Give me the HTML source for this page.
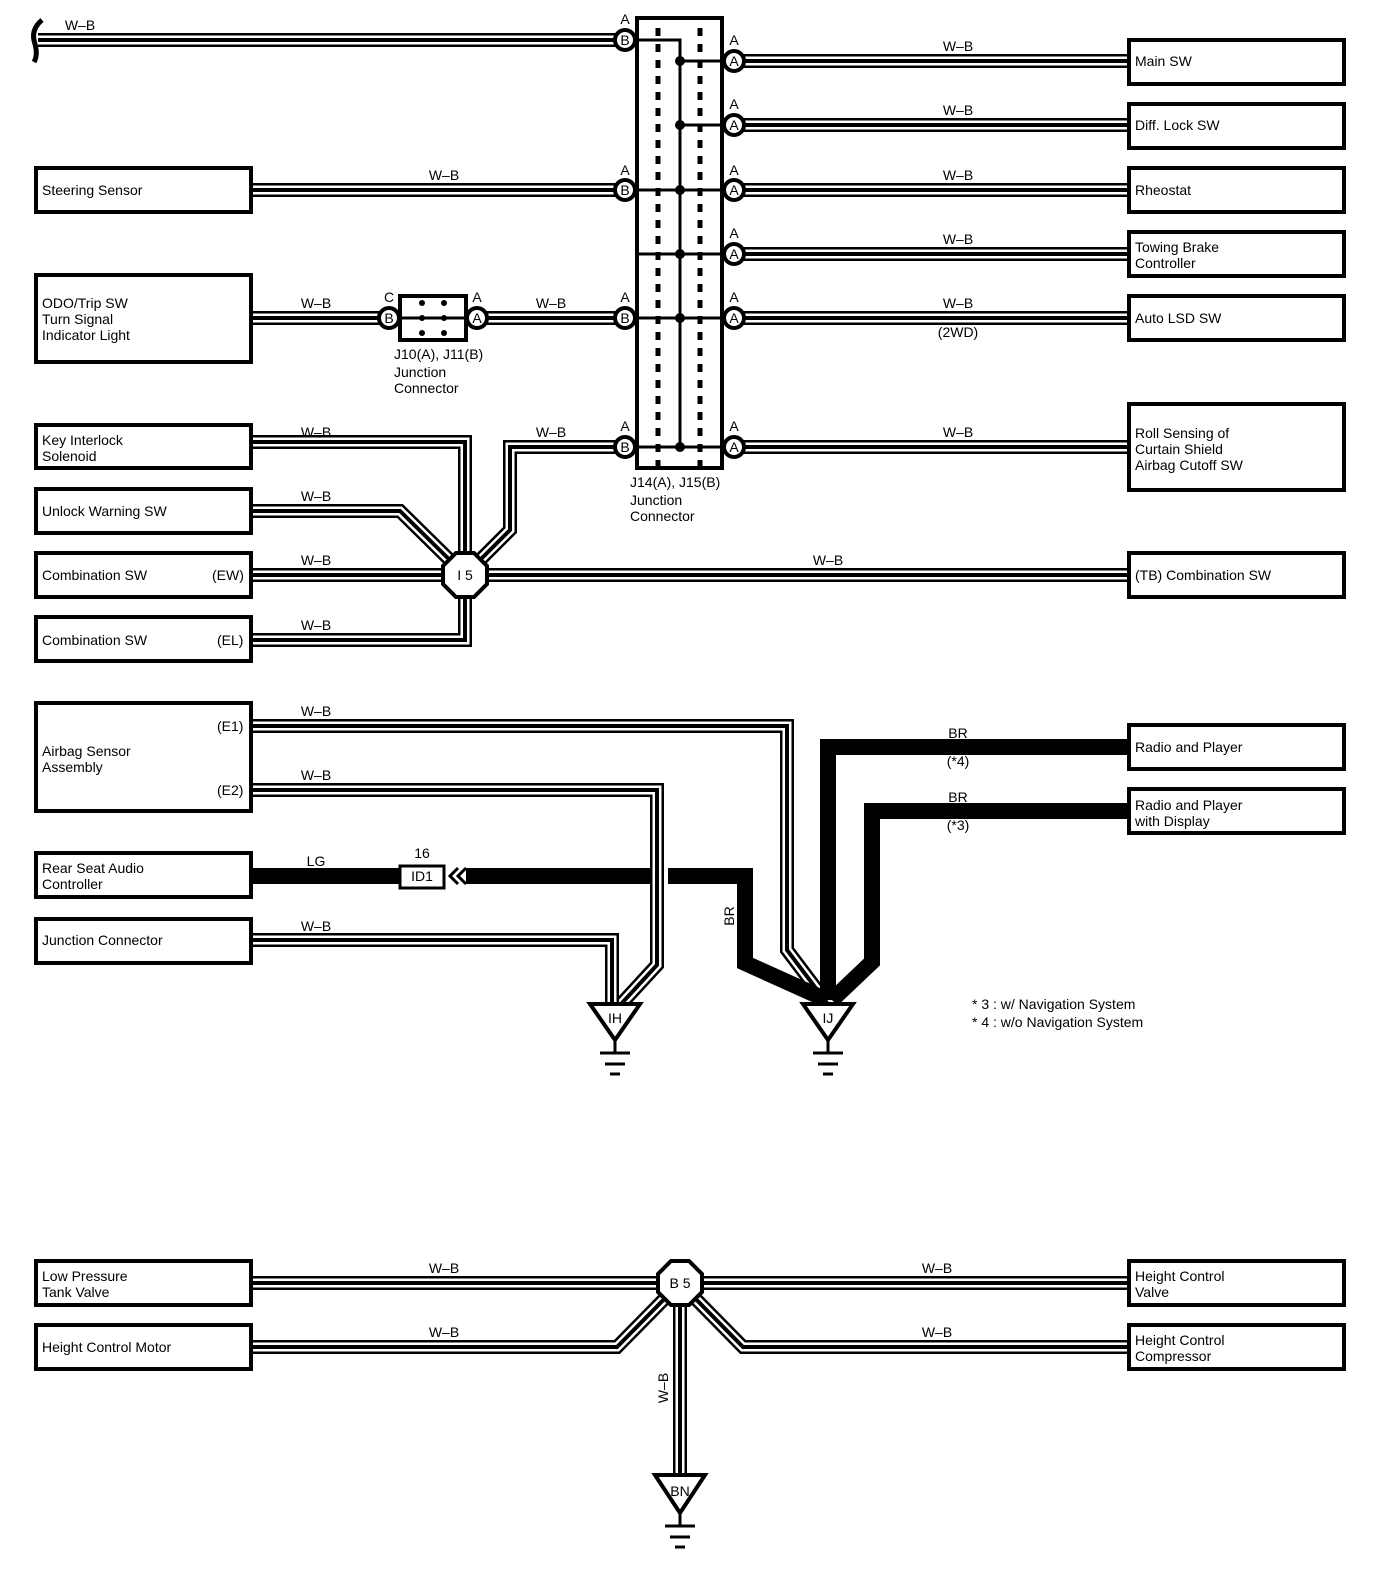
<!DOCTYPE html>
<html><head><meta charset="utf-8"><style>
html,body{margin:0;padding:0;background:#fff}
svg{display:block}
text{font-family:"Liberation Sans",sans-serif;font-size:14px;fill:#000}
</style></head><body>
<svg width="1392" height="1578" viewBox="0 0 1392 1578" xmlns="http://www.w3.org/2000/svg">
<defs>
<g id="wb" fill="none" stroke-linejoin="miter">
<path d="M38 40 H615"/>
<path d="M735 61 H1128"/>
<path d="M735 125 H1128"/>
<path d="M251 190 H615"/><path d="M735 190 H1128"/>
<path d="M735 254 H1128"/>
<path d="M251 318 H379"/><path d="M487 318 H615"/><path d="M735 318 H1128"/>
<path d="M735 447 H1128"/>
<path d="M251 442 H465 V575"/>
<path d="M251 511 H400 L465 575"/>
<path d="M251 575 H1128"/>
<path d="M251 640 H465 V575"/>
<path d="M465 575 L510 530 V447 H615"/>
<path d="M251 726 H787 V950 L827 1003"/>
<path d="M251 790 H657 V965 L622 1003"/>
<path d="M251 940 H612 V1003"/>
<path d="M251 1283 H1128"/>
<path d="M251 1347 H617 L680 1283 L743 1347 H1128"/>
<path d="M680 1283 V1473"/>
</g>
</defs>
<use href="#wb" stroke="#000" stroke-width="14"/>
<use href="#wb" stroke="#fff" stroke-width="9"/>
<use href="#wb" stroke="#000" stroke-width="4"/>
<path d="M42 20 Q30 30 35 44 Q38 55 34 62" fill="none" stroke="#000" stroke-width="5"/>

<!-- thick wires -->
<g fill="none" stroke="#000" stroke-width="16">
<path d="M251 876 H399"/>
<path d="M466 876 H650"/>
<path d="M668 876 H745 V963 L827 1000"/>
<path d="M1128 747 H828 V1000"/>
<path d="M1128 811 H872 V962 L832 1000"/>
</g>

<!-- boxes -->
<g fill="#fff" stroke="#000" stroke-width="4">
<rect x="37" y="40" width="0" height="0"/>
<rect x="1129" y="40" width="215" height="44"/>
<rect x="1129" y="104" width="215" height="44"/>
<rect x="1129" y="168" width="215" height="44"/>
<rect x="1129" y="232" width="215" height="44"/>
<rect x="1129" y="296" width="215" height="44"/>
<rect x="1129" y="404" width="215" height="86"/>
<rect x="1129" y="553" width="215" height="44"/>
<rect x="1129" y="725" width="215" height="44"/>
<rect x="1129" y="789" width="215" height="44"/>
<rect x="1129" y="1261" width="215" height="44"/>
<rect x="1129" y="1325" width="215" height="44"/>
<rect x="36" y="168" width="215" height="44"/>
<rect x="36" y="275" width="215" height="87"/>
<rect x="36" y="425" width="215" height="43"/>
<rect x="36" y="489" width="215" height="44"/>
<rect x="36" y="553" width="215" height="44"/>
<rect x="36" y="617" width="215" height="44"/>
<rect x="36" y="703" width="215" height="108"/>
<rect x="36" y="853" width="215" height="44"/>
<rect x="36" y="919" width="215" height="44"/>
<rect x="36" y="1261" width="215" height="44"/>
<rect x="36" y="1325" width="215" height="44"/>
<rect x="637" y="18" width="85" height="450"/>
<rect x="400" y="296" width="66" height="44"/>
<rect x="400" y="866" width="44" height="22" stroke-width="3"/>
</g>

<!-- J14/J15 internals -->
<g stroke="#000" stroke-width="5" stroke-dasharray="8 8" fill="none">
<path d="M658 28 V468"/><path d="M700 28 V468"/>
</g>
<g stroke="#000" stroke-width="3" fill="none">
<path d="M635 40 H680 V447"/>
<path d="M680 61 H724"/><path d="M680 125 H724"/><path d="M635 190 H724"/><path d="M635 254 H724"/>
<path d="M635 318 H724" /><path d="M635 447 H724"/>
<path d="M400 318 H466"/>
</g>
<g fill="#000">
<circle cx="680" cy="61" r="5"/><circle cx="680" cy="125" r="5"/><circle cx="680" cy="190" r="5"/>
<circle cx="680" cy="254" r="5"/><circle cx="680" cy="318" r="5"/><circle cx="680" cy="447" r="5"/>
<circle cx="422" cy="303" r="3"/><circle cx="422" cy="318" r="3"/><circle cx="422" cy="333" r="3"/>
<circle cx="444" cy="303" r="3"/><circle cx="444" cy="318" r="3"/><circle cx="444" cy="333" r="3"/>
</g>

<!-- connector circles -->
<g fill="#fff" stroke="#000" stroke-width="4">
<circle cx="625" cy="40" r="10"/><circle cx="625" cy="190" r="10"/><circle cx="625" cy="318" r="10"/><circle cx="625" cy="447" r="10"/>
<circle cx="734" cy="61" r="10"/><circle cx="734" cy="125" r="10"/><circle cx="734" cy="190" r="10"/><circle cx="734" cy="254" r="10"/><circle cx="734" cy="318" r="10"/><circle cx="734" cy="447" r="10"/>
<circle cx="389" cy="318" r="10"/><circle cx="477" cy="318" r="10"/>
<polygon points="456,553 474,553 487,566 487,584 474,597 456,597 443,584 443,566"/>
<polygon points="671,1261 689,1261 702,1274 702,1292 689,1305 671,1305 658,1292 658,1274"/>
<polygon points="590,1004 640,1004 615,1040"/>
<polygon points="803,1004 853,1004 828,1040"/>
<polygon points="655,1475 705,1475 680,1513"/>
</g>
<g stroke="#000" stroke-width="3" fill="none">
<path d="M615 1040 V1053 M600 1053 H630 M605 1064 H625 M610 1074 H620"/>
<path d="M828 1040 V1053 M813 1053 H843 M818 1064 H838 M823 1074 H833"/>
<path d="M680 1513 V1526 M665 1526 H695 M670 1537 H690 M675 1547 H685"/>
<path d="M458 868 L450 876 L458 884 M466 868 L458 876 L466 884"/>
</g>
<g font-size="13" text-anchor="middle">
<text x="625" y="45">B</text><text x="625" y="195">B</text><text x="625" y="323">B</text><text x="625" y="452">B</text>
<text x="734" y="66">A</text><text x="734" y="130">A</text><text x="734" y="195">A</text><text x="734" y="259">A</text><text x="734" y="323">A</text><text x="734" y="452">A</text>
<text x="389" y="323">B</text><text x="477" y="323">A</text>
<text x="625" y="24">A</text><text x="625" y="175">A</text><text x="625" y="302">A</text><text x="625" y="431">A</text>
<text x="734" y="45">A</text><text x="734" y="109">A</text><text x="734" y="175">A</text><text x="734" y="238">A</text><text x="734" y="302">A</text><text x="734" y="431">A</text>
<text x="389" y="302">C</text><text x="477" y="302">A</text>
<text x="465" y="580">I 5</text><text x="680" y="1288">B 5</text>
<text x="615" y="1023">IH</text><text x="828" y="1023">IJ</text><text x="680" y="1496">BN</text>
<text x="422" y="881">ID1</text><text x="422" y="858">16</text>
</g>
<g text-anchor="middle">
<text x="80" y="30">W–B</text>
<text x="958" y="51">W–B</text><text x="958" y="115">W–B</text><text x="444" y="180">W–B</text><text x="958" y="180">W–B</text>
<text x="958" y="244">W–B</text><text x="316" y="308">W–B</text><text x="551" y="308">W–B</text><text x="958" y="308">W–B</text>
<text x="958" y="337">(2WD)</text>
<text x="316" y="437">W–B</text><text x="551" y="437">W–B</text><text x="958" y="437">W–B</text>
<text x="316" y="501">W–B</text><text x="316" y="565">W–B</text><text x="828" y="565">W–B</text><text x="316" y="630">W–B</text>
<text x="316" y="716">W–B</text><text x="316" y="780">W–B</text><text x="316" y="866">LG</text><text x="316" y="931">W–B</text>
<text x="958" y="738">BR</text><text x="958" y="766">(*4)</text><text x="958" y="802">BR</text><text x="958" y="830">(*3)</text>
<text x="444" y="1273">W–B</text><text x="937" y="1273">W–B</text><text x="444" y="1337">W–B</text><text x="937" y="1337">W–B</text>
<text transform="translate(734,916) rotate(-90)">BR</text>
<text transform="translate(668,1388) rotate(-90)">W–B</text>
</g>
<g>
<text x="1135" y="66">Main SW</text>
<text x="1135" y="130">Diff.  Lock SW</text>
<text x="1135" y="195">Rheostat</text>
<text x="1135" y="252">Towing Brake</text><text x="1135" y="268">Controller</text>
<text x="1135" y="323">Auto LSD SW</text>
<text x="1135" y="438">Roll Sensing of</text><text x="1135" y="454">Curtain Shield</text><text x="1135" y="470">Airbag Cutoff SW</text>
<text x="1135" y="580">(TB)   Combination SW</text>
<text x="1135" y="752">Radio and Player</text>
<text x="1135" y="810">Radio and Player</text><text x="1135" y="826">with Display</text>
<text x="1135" y="1281">Height Control</text><text x="1135" y="1297">Valve</text>
<text x="1135" y="1345">Height Control</text><text x="1135" y="1361">Compressor</text>
<text x="42" y="195">Steering Sensor</text>
<text x="42" y="308">ODO/Trip SW</text><text x="42" y="324">Turn Signal</text><text x="42" y="340">Indicator Light</text>
<text x="42" y="445">Key Interlock</text><text x="42" y="461">Solenoid</text>
<text x="42" y="516">Unlock Warning SW</text>
<text x="42" y="580">Combination SW</text><text x="212" y="580">(EW)</text>
<text x="42" y="645">Combination SW</text><text x="217" y="645">(EL)</text>
<text x="42" y="756">Airbag Sensor</text><text x="42" y="772">Assembly</text>
<text x="217" y="731">(E1)</text><text x="217" y="795">(E2)</text>
<text x="42" y="873">Rear Seat Audio</text><text x="42" y="889">Controller</text>
<text x="42" y="945">Junction Connector</text>
<text x="42" y="1281">Low Pressure</text><text x="42" y="1297">Tank Valve</text>
<text x="42" y="1352">Height Control Motor</text>
<text x="394" y="359">J10(A), J11(B)</text><text x="394" y="377">Junction</text><text x="394" y="393">Connector</text>
<text x="630" y="487">J14(A), J15(B)</text><text x="630" y="505">Junction</text><text x="630" y="521">Connector</text>
<text x="972" y="1009">* 3 : w/ Navigation System</text>
<text x="972" y="1027">* 4 : w/o Navigation System</text>
</g>
</svg>
</body></html>
